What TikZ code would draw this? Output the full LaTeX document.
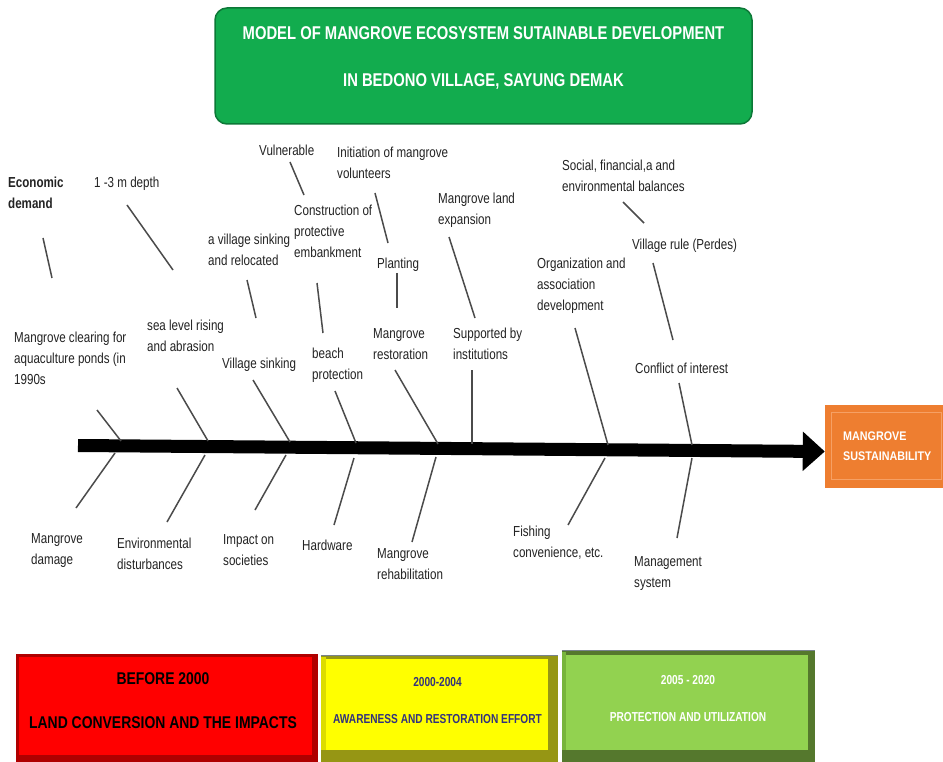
\documentclass[tikz,border=0pt]{standalone}
\usepackage{fontspec}
\setmainfont{Liberation Sans}
\newfontfamily\fA[FakeStretch=0.80]{Liberation Sans}
\newfontfamily\fB[FakeStretch=0.82]{Liberation Sans}
\newfontfamily\fC[FakeStretch=0.78]{Liberation Sans}
\newfontfamily\fD[FakeStretch=0.86]{Liberation Sans}
\usetikzlibrary{arrows.meta,calc}
\definecolor{titlegreen}{RGB}{18,172,78}
\definecolor{titledark}{RGB}{12,120,55}
\definecolor{labelgray}{RGB}{35,35,35}
\definecolor{bonegray}{RGB}{75,75,75}
\definecolor{redM}{RGB}{255,0,0}
\definecolor{redD}{RGB}{175,0,0}
\definecolor{yelM}{RGB}{255,255,0}
\definecolor{yelL}{RGB}{220,220,0}
\definecolor{yelD}{RGB}{150,150,20}
\definecolor{yeltext}{RGB}{50,50,125}
\definecolor{grnM}{RGB}{146,210,80}
\definecolor{grnL}{RGB}{120,180,60}
\definecolor{grnD}{RGB}{85,120,45}
\definecolor{orM}{RGB}{238,126,48}
\definecolor{orL}{RGB}{246,160,100}
\definecolor{edgegray}{RGB}{120,130,140}
\begin{document}
\begin{tikzpicture}[x=1pt,y=-1pt,
  lbl/.style={anchor=north west, inner sep=0pt, align=left, text=labelgray,
    font=\fA\fontsize{14.5}{21}\selectfont, execute at begin node=\rule{0pt}{12pt}},
  bone/.style={draw=bonegray, line width=1.5pt},
  plainbox/.style={draw=none, inner sep=0pt, anchor=center},
  tabtext/.style={align=center, inner sep=0pt, anchor=center}]
\useasboundingbox (0,0) rectangle (943,762);
\fill[white] (0,0) rectangle (943,762);

% title
\node[plainbox, fill=titlegreen, draw=titledark, line width=1.5pt, rounded corners=12pt,
  minimum width=537pt, minimum height=116pt] (titlebox) at (483.5,66) {};
\node[tabtext, text=white, font=\fA\bfseries\fontsize{18.5}{47}\selectfont] (titletext) at (483.5,58)
  {MODEL OF MANGROVE ECOSYSTEM SUTAINABLE DEVELOPMENT\\IN BEDONO VILLAGE, SAYUNG DEMAK};

% result box
\node[plainbox, fill=orM, minimum width=120pt, minimum height=83pt] (sust) at (885,446.5) {};
\draw[orL, line width=1.2pt] ($(sust.north west)+(7,8)$) rectangle ($(sust.south east)+(-4,-9)$);
\node[anchor=north west, inner sep=0pt, align=left, text=white,
  font=\fD\bfseries\fontsize{12.5}{20}\selectfont, execute at begin node=\rule{0pt}{10pt}]
  (susttext) at (843,431.5) {MANGROVE\\SUSTAINABILITY};

% spine
\coordinate (tail) at (78,445.5);
\coordinate (head) at ($(sust.west)+(0,5)$);
\draw[line width=13pt, -{Triangle[length=22pt,width=38pt]}] (tail) -- (head);

% upper bones
\coordinate (u1a) at (97,410);  \coordinate (u1b) at (121,441);
\coordinate (u2a) at (177,388); \coordinate (u2b) at (208,441);
\coordinate (u3a) at (253,380); \coordinate (u3b) at (290,442);
\coordinate (u4a) at (335,391); \coordinate (u4b) at (356,443);
\coordinate (u5a) at (395,370); \coordinate (u5b) at (438,444);
\coordinate (u6a) at (472,370); \coordinate (u6b) at (472,444);
\coordinate (u7a) at (575,328); \coordinate (u7b) at (608,445);
\coordinate (u8a) at (679,383); \coordinate (u8b) at (692,445);
\foreach \i in {1,...,8} {\draw[bone] (u\i a) -- (u\i b);}

% lower bones
\coordinate (d1a) at (115,453); \coordinate (d1b) at (76,508);
\coordinate (d2a) at (205,455); \coordinate (d2b) at (167,522);
\coordinate (d3a) at (286,455); \coordinate (d3b) at (255,510);
\coordinate (d4a) at (354,458); \coordinate (d4b) at (334,525);
\coordinate (d5a) at (436,457); \coordinate (d5b) at (412,542);
\coordinate (d6a) at (605,458); \coordinate (d6b) at (568,525);
\coordinate (d7a) at (692,458); \coordinate (d7b) at (677,538);
\foreach \i in {1,...,7} {\draw[bone] (d\i a) -- (d\i b);}

% secondary lines
\coordinate (s1a) at (43,238);  \coordinate (s1b) at (52,278);
\coordinate (s2a) at (127,205); \coordinate (s2b) at (173,270);
\coordinate (s3a) at (247,280); \coordinate (s3b) at (256,318);
\coordinate (s4a) at (290,162); \coordinate (s4b) at (304,195);
\coordinate (s5a) at (317,283); \coordinate (s5b) at (323,333);
\coordinate (s6a) at (375,193); \coordinate (s6b) at (388,243);
\coordinate (s7a) at (397,273); \coordinate (s7b) at (397,308);
\coordinate (s8a) at (449,237); \coordinate (s8b) at (475,318);
\coordinate (s9a) at (623,202); \coordinate (s9b) at (644,223);
\coordinate (s10a) at (653,263); \coordinate (s10b) at (673,340);
\foreach \i in {1,...,10} {\draw[bone] (s\i a) -- (s\i b);}

% labels
\node[lbl, font=\fA\bfseries\fontsize{14.5}{21}\selectfont] (econ) at (8,177) {Economic\\demand};
\node[lbl] (depth) at (94,175) {1 -3 m depth};
\node[lbl] (vsr) at (208,234) {a village sinking\\and relocated};
\node[lbl] (vuln) at (259,143) {Vulnerable};
\node[lbl] (constr) at (294,205) {Construction of\\protective\\embankment};
\node[lbl] (init) at (337,147) {Initiation of mangrove\\volunteers};
\node[lbl] (plant) at (377,256) {Planting};
\node[lbl] (expand) at (438,193) {Mangrove land\\expansion};
\node[lbl] (restor) at (373,328) {Mangrove\\restoration};
\node[lbl] (suppo) at (453,328) {Supported by\\institutions};
\node[lbl] (beach) at (312,348) {beach\\protection};
\node[lbl] (vsink) at (222,356) {Village sinking};
\node[lbl] (sea) at (147,320) {sea level rising\\and abrasion};
\node[lbl] (clear) at (14,332) {Mangrove clearing for\\aquaculture ponds (in\\1990s};
\node[lbl] (social) at (562,160) {Social, financial,a and\\environmental balances};
\node[lbl] (vrule) at (632,237) {Village rule (Perdes)};
\node[lbl] (organ) at (537,258) {Organization and\\association\\development};
\node[lbl] (confl) at (635,361) {Conflict of interest};
\node[lbl] (damage) at (31,533) {Mangrove\\damage};
\node[lbl] (envir) at (117,538) {Environmental\\disturbances};
\node[lbl] (impact) at (223,534) {Impact on\\societies};
\node[lbl] (hard) at (302,538) {Hardware};
\node[lbl] (rehab) at (377,548) {Mangrove\\rehabilitation};
\node[lbl] (fish) at (513,526) {Fishing\\convenience, etc.};
\node[lbl] (manage) at (634,556) {Management\\system};

% period boxes
\node[plainbox, fill=redD, minimum width=302pt, minimum height=108pt] (redbox) at (167,708) {};
\fill[redM] ($(redbox.north west)+(3,3)$) rectangle ($(redbox.south east)+(-6,-7)$);
\node[tabtext, text=black, font=\fB\bfseries\fontsize{17}{44}\selectfont] (redtext) at (163,701)
  {BEFORE 2000\\LAND CONVERSION AND THE IMPACTS};

\node[plainbox, fill=yelD, minimum width=237pt, minimum height=106pt] (yelbox) at (439.5,709) {};
\fill[yelL] ($(yelbox.north west)+(0,1)$) rectangle ($(yelbox.south west)+(5,-12)$);
\fill[yelM] ($(yelbox.north west)+(5,3)$) rectangle ($(yelbox.south east)+(-10,-12)$);
\draw[edgegray, line width=1pt] (yelbox.north west) -- (yelbox.north east);
\node[tabtext, text=yeltext, font=\fC\bfseries\fontsize{13}{37}\selectfont] (yeltext) at (437.5,700.5)
  {2000-2004\\AWARENESS AND RESTORATION EFFORT};

\node[plainbox, fill=grnD, minimum width=253pt, minimum height=111pt] (grnbox) at (688.5,706.5) {};
\fill[grnL] ($(grnbox.north west)+(0,1)$) rectangle ($(grnbox.south west)+(4,-12)$);
\fill[grnM] ($(grnbox.north west)+(4,4)$) rectangle ($(grnbox.south east)+(-7,-12)$);
\draw[edgegray, line width=1pt] (grnbox.north west) -- (grnbox.north east);
\node[tabtext, text=white, font=\fC\bfseries\fontsize{13}{37}\selectfont] (grntext) at (688,698.5)
  {2005 - 2020\\PROTECTION AND UTILIZATION};
\end{tikzpicture}
\end{document}
